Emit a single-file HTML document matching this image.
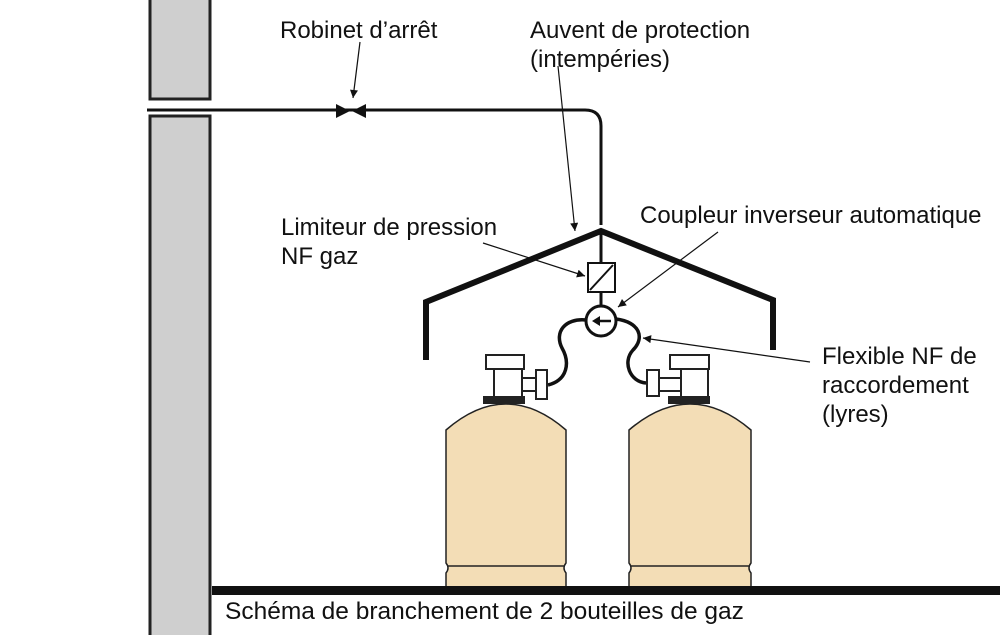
<!DOCTYPE html>
<html><head><meta charset="utf-8"><style>
html,body{margin:0;padding:0;background:#fff;}
svg{display:block;}
text{font-family:"Liberation Sans",sans-serif;font-size:24px;fill:#111;}
</style></head><body>
<svg width="1000" height="635" viewBox="0 0 1000 635" xmlns="http://www.w3.org/2000/svg">
<defs>
<marker id="ah" viewBox="0 0 10 10" refX="10" refY="5" markerWidth="12" markerHeight="8" orient="auto" markerUnits="userSpaceOnUse"><path d="M0,0 L10,5 L0,10 z" fill="#111"/></marker>
</defs>
<rect x="150" y="-5" width="60" height="104" fill="#cfcfcf" stroke="#222" stroke-width="3"/>
<rect x="150" y="116" width="60" height="530" fill="#cfcfcf" stroke="#222" stroke-width="3"/>
<path d="M147,110 L585,110 Q601,110 601,126 L601,225" fill="none" stroke="#111" stroke-width="3"/>
<path d="M336,104 L350,111 L336,118 z M366,104 L352,111 L366,118 z" fill="#111"/>
<path d="M426,360 L426,302 L601,231 L773,300 L773,350" fill="none" stroke="#111" stroke-width="6"/>
<line x1="601" y1="231" x2="601" y2="263" stroke="#111" stroke-width="3"/>
<rect x="588" y="263" width="27" height="29" fill="#fff" stroke="#111" stroke-width="2"/>
<line x1="590" y1="290" x2="613" y2="265" stroke="#111" stroke-width="2"/>
<line x1="601" y1="292" x2="601" y2="305" stroke="#111" stroke-width="3"/>
<circle cx="601" cy="321" r="15" fill="#fff" stroke="#111" stroke-width="3"/>
<path d="M592,321 L600,316 L600,326 z" fill="#111"/><line x1="598" y1="321" x2="611" y2="321" stroke="#111" stroke-width="2.5"/>
<path d="M548,385 C568,380 570,362 562,348 C554,332 565,318 586,320" fill="none" stroke="#111" stroke-width="3.5"/>
<path d="M616,319 C640,322 645,338 633,350 C622,362 630,382 646,383" fill="none" stroke="#111" stroke-width="3.5"/>
<g fill="#f3ddb6" stroke="#222" stroke-width="1.5">
<path d="M446,588 L446,573 Q450,568 446,563 L446,430 Q506,378 566,430 L566,563 Q562,568 566,573 L566,588 z"/>
<path d="M629,588 L629,573 Q633,568 629,563 L629,430 Q690,378 751,430 L751,563 Q747,568 751,573 L751,588 z"/>
</g>
<line x1="448" y1="566" x2="564" y2="566" stroke="#222" stroke-width="1.5"/>
<line x1="631" y1="566" x2="749" y2="566" stroke="#222" stroke-width="1.5"/>
<rect x="483" y="396" width="42" height="8" fill="#222"/>
<rect x="668" y="396" width="42" height="8" fill="#222"/>
<g fill="#fff" stroke="#222" stroke-width="2">
<rect x="494" y="368" width="28" height="29"/>
<rect x="486" y="355" width="38" height="14"/>
<rect x="522" y="378" width="15" height="13"/>
<rect x="536" y="370" width="11" height="29"/>
<rect x="681" y="368" width="27" height="29"/>
<rect x="670" y="355" width="39" height="14"/>
<rect x="659" y="378" width="22" height="13"/>
<rect x="647" y="370" width="12" height="26"/>
</g>
<rect x="212" y="586" width="788" height="9" fill="#111"/>
<g stroke="#111" stroke-width="1.2" fill="none" marker-end="url(#ah)">
<line x1="360" y1="42" x2="353" y2="98"/>
<line x1="558" y1="66" x2="575" y2="231"/>
<line x1="483" y1="243" x2="585" y2="276"/>
<line x1="718" y1="232" x2="618" y2="307"/>
<line x1="810" y1="362" x2="643" y2="338"/>
</g>
<text x="280" y="38">Robinet d’arrêt</text>
<text x="530" y="38">Auvent de protection</text>
<text x="530" y="67">(intempéries)</text>
<text x="281" y="235">Limiteur de pression</text>
<text x="281" y="264">NF gaz</text>
<text x="640" y="223">Coupleur inverseur automatique</text>
<text x="822" y="364">Flexible NF de</text>
<text x="822" y="393">raccordement</text>
<text x="822" y="422">(lyres)</text>
<text x="225" y="619" style="font-size:24.5px">Schéma de branchement de 2 bouteilles de gaz</text>
</svg>
</body></html>
